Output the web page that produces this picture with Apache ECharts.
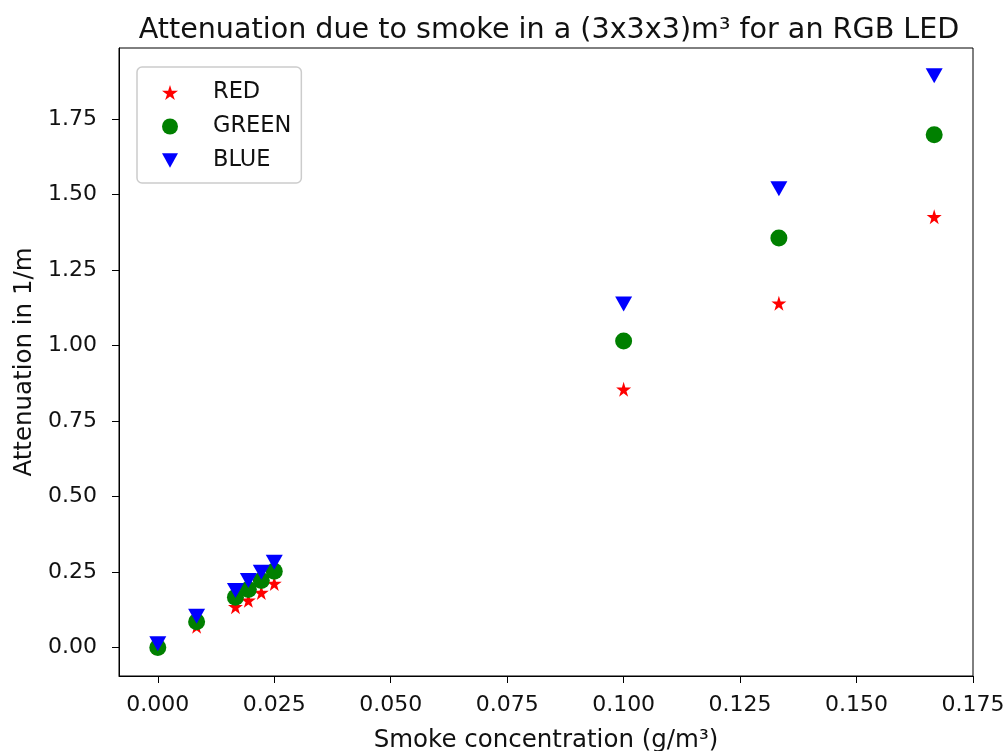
<!DOCTYPE html>
<html>
<head>
<meta charset="utf-8">
<script src="https://cdn.jsdelivr.net/npm/echarts@6/dist/echarts.min.js"></script>
<style>
  html, body { margin: 0; padding: 0; background: #fff; }
  #main { width: 1005px; height: 751px; }
</style>
</head>
<body>
<div id="main"></div>
<script>
// smoke concentration (g/m^3)
var concentration = [0.0, 0.00833, 0.01667, 0.01944, 0.02222, 0.025, 0.1, 0.13333, 0.16667];
// attenuation (1/m) per colour
var redValues   = [0.0, 0.07, 0.135, 0.156, 0.182, 0.212, 0.855, 1.14, 1.426];
var greenValues = [0.0, 0.085, 0.166, 0.192, 0.222, 0.252, 1.015, 1.356, 1.698];
var blueValues  = [0.012, 0.103, 0.189, 0.222, 0.249, 0.282, 1.137, 1.519, 1.893];

var xTicks = [0, 0.025, 0.05, 0.075, 0.1, 0.125, 0.15, 0.175];
var yTicks = [0, 0.25, 0.5, 0.75, 1.0, 1.25, 1.5, 1.75];

var font = 'DejaVu Sans, sans-serif';
var starPath = 'path://M50,0 L61,35 L98,35 L68,57 L79,91 L50,70 L21,91 L32,57 L2,35 L39,35 Z';
var triPath = 'path://M0,0 L100,0 L50,90 Z';

function pairs(ys) {
    return concentration.map(function (x, i) { return [x, ys[i]]; });
}

option = {
    animation: false,
    title: {
        text: 'Attenuation due to smoke in a (3x3x3)m³ for an RGB LED',
        left: 544,
        top: 11,
        textAlign: 'center',
        textStyle: {
            fontFamily: font,
            fontWeight: 'normal',
            fontSize: 28.6,
            color: '#111'
        }
    },
    legend: {
        orient: 'vertical',
        left: 137,
        top: 67,
        padding: [14, 10, 11, 25],
        itemGap: 11,
        itemWidth: 16,
        itemHeight: 16,
        backgroundColor: '#fff',
        borderColor: '#cccccc',
        borderWidth: 1.5,
        borderRadius: 5,
        textStyle: {
            fontFamily: font,
            fontSize: 22.5,
            color: '#111',
            padding: [0, 0, 0, 30]
        },
        data: ['RED', 'GREEN', 'BLUE']
    },
    grid: {
        left: 119,
        right: 32,
        top: 48,
        bottom: 75,
        outerBoundsMode: 'none',
        show: true,
        borderColor: '#000',
        borderWidth: 1,
        backgroundColor: '#fff'
    },
    xAxis: {
        type: 'value',
        min: -0.00833,
        max: 0.175,
        name: 'Smoke concentration (g/m³)',
        nameLocation: 'middle',
        nameGap: 52,
        nameTextStyle: { fontFamily: font, fontSize: 24.5, color: '#111' },
        axisLine: { show: true, onZero: false, lineStyle: { color: '#000' } },
        axisTick: { show: true, length: 7, customValues: xTicks, lineStyle: { color: '#000' } },
        axisLabel: {
            show: true,
            customValues: xTicks,
            margin: 18,
            fontFamily: font,
            fontSize: 22,
            color: '#111',
            formatter: function (v) { return v.toFixed(3); }
        },
        splitLine: { show: false }
    },
    yAxis: {
        type: 'value',
        min: -0.0945,
        max: 1.985,
        name: 'Attenuation in 1/m',
        nameLocation: 'middle',
        nameGap: 62,
        nameTextStyle: { fontFamily: font, fontSize: 24.5, color: '#111' },
        axisLine: { show: true, onZero: false, lineStyle: { color: '#000' } },
        axisTick: { show: true, length: 7, customValues: yTicks, lineStyle: { color: '#000' } },
        axisLabel: {
            show: true,
            customValues: yTicks,
            margin: 22,
            fontFamily: font,
            fontSize: 22,
            color: '#111',
            formatter: function (v) { return v.toFixed(2); }
        },
        splitLine: { show: false }
    },
    series: [{
        name: 'RED',
        type: 'scatter',
        symbol: starPath,
        symbolSize: 15,
        itemStyle: { color: '#ff0000', opacity: 1 },
        data: pairs(redValues)
    },
    {
        name: 'GREEN',
        type: 'scatter',
        symbol: 'circle',
        symbolSize: 17,
        itemStyle: { color: '#008000', opacity: 1 },
        data: pairs(greenValues)
    },
    {
        name: 'BLUE',
        type: 'scatter',
        symbol: triPath,
        symbolSize: [17, 15],
        itemStyle: { color: '#0000ff', opacity: 1 },
        data: pairs(blueValues)
    }]
};

var dom = document.getElementById('main');
var myChart = echarts.init(dom);
myChart.setOption(option);
</script>
</body>
</html>
